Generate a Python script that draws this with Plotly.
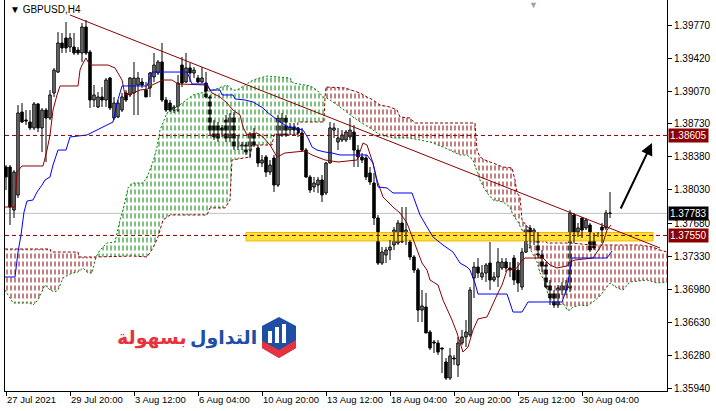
import plotly.graph_objects as go

# ---------------- data ----------------
bar_index = list(range(152))
opens = [1.38272,1.38272,1.37818,1.37977,1.38852,1.38768,1.38747,1.38684,1.38937,1.38684,
1.38873,1.38789,1.39053,1.39274,1.39580,1.39633,1.39538,1.39538,1.39506,1.39475,
1.39749,1.39485,1.38979,1.38905,1.39011,1.38979,1.39211,1.38789,1.38800,1.38873,
1.39053,1.39032,1.39053,1.39137,1.39169,1.39084,1.39106,1.39222,1.39264,1.39380,
1.38979,1.38947,1.38873,1.38873,1.39348,1.39169,1.39317,1.39264,1.39211,1.39169,
1.39158,1.39011,1.38736,1.38715,1.38684,1.38768,1.38578,1.38821,1.38483,1.38473,
1.38504,1.38451,1.38631,1.38473,1.38314,1.38378,1.38219,1.38367,1.38082,1.38610,
1.38789,1.38662,1.38694,1.38684,1.38631,1.38451,1.38167,1.38061,1.38082,1.38135,
1.37998,1.38314,1.38662,1.38536,1.38557,1.38557,1.38589,1.38641,1.38451,1.38378,
1.38367,1.38209,1.38103,1.37734,1.37259,1.37344,1.37396,1.37449,1.37470,1.37681,
1.37502,1.37481,1.37323,1.37185,1.36763,1.36795,1.36531,1.36426,1.36415,1.36363,
1.36215,1.36046,1.36257,1.36183,1.36415,1.36479,1.36500,1.37101,1.37217,1.37112,
1.37154,1.37259,1.37080,1.37112,1.37207,1.37270,1.37207,1.37312,1.37185,1.37006,
1.37375,1.37629,1.37502,1.37555,1.37344,1.37238,1.37048,1.36953,1.36816,1.36953,
1.36974,1.36996,1.37766,1.37586,1.37734,1.37629,1.37660,1.37544,1.37534,1.37639,
1.37629,1.37787]
highs = [1.38293,1.38293,1.38240,1.38926,1.38947,1.38873,1.38873,1.38958,1.38947,1.38895,
1.38895,1.39084,1.39317,1.39696,1.39686,1.39802,1.39686,1.39686,1.39538,1.39791,
1.39823,1.39506,1.39137,1.39063,1.39116,1.39211,1.39222,1.39011,1.38979,1.39053,
1.39084,1.39222,1.39380,1.39274,1.39211,1.39169,1.39274,1.39475,1.39401,1.39580,
1.39011,1.38979,1.38926,1.39243,1.39433,1.39475,1.39369,1.39327,1.39243,1.39327,
1.39274,1.39032,1.38768,1.38747,1.38715,1.38821,1.38842,1.38852,1.38610,1.38536,
1.38536,1.38641,1.38684,1.38504,1.38399,1.38399,1.38346,1.38399,1.38821,1.38842,
1.38821,1.38736,1.38736,1.38694,1.38684,1.38473,1.38188,1.38167,1.38167,1.38188,
1.38325,1.38747,1.38736,1.38684,1.38662,1.38662,1.38789,1.38715,1.38504,1.38420,
1.38399,1.38272,1.38209,1.37766,1.37428,1.37428,1.37502,1.37639,1.37713,1.37850,
1.37850,1.37502,1.37344,1.37207,1.36974,1.36943,1.36552,1.36447,1.36447,1.36363,
1.36257,1.36363,1.36289,1.36479,1.36552,1.36658,1.37006,1.37270,1.37312,1.37238,
1.37259,1.37481,1.37164,1.37418,1.37312,1.37312,1.37270,1.37344,1.37270,1.37418,
1.37660,1.37660,1.37629,1.37586,1.37396,1.37270,1.37080,1.36974,1.37027,1.37059,
1.37080,1.37818,1.37787,1.37681,1.37745,1.37734,1.37681,1.37576,1.37586,1.37681,
1.37818,1.38008]
lows = [1.38029,1.37660,1.37734,1.37945,1.38736,1.38715,1.38662,1.38662,1.38641,1.38430,
1.38325,1.38768,1.39011,1.39264,1.39475,1.39475,1.39485,1.39454,1.39454,1.39380,
1.39454,1.38895,1.38905,1.38895,1.38905,1.38905,1.38873,1.38768,1.38789,1.38852,
1.38958,1.39011,1.38821,1.38821,1.39106,1.39011,1.39011,1.39169,1.39243,1.38958,
1.38852,1.38852,1.38842,1.38852,1.39116,1.39158,1.39169,1.39211,1.39158,1.39158,
1.39000,1.38610,1.38557,1.38536,1.38589,1.38536,1.38536,1.38451,1.38451,1.38451,
1.38399,1.38367,1.38483,1.38272,1.38272,1.38167,1.38188,1.38008,1.38061,1.38589,
1.38589,1.38610,1.38610,1.38589,1.38430,1.38156,1.37998,1.38008,1.37998,1.37903,
1.37977,1.38314,1.38578,1.38451,1.38536,1.38536,1.38557,1.38272,1.38272,1.38314,
1.38135,1.38082,1.37660,1.37238,1.37238,1.37259,1.37291,1.37396,1.37449,1.37470,
1.37449,1.37291,1.37154,1.36637,1.36637,1.36521,1.36341,1.36310,1.36289,1.36099,
1.36025,1.36025,1.36183,1.36057,1.36394,1.36373,1.36479,1.36890,1.37101,1.37080,
1.37059,1.36974,1.37059,1.37006,1.37185,1.37164,1.37112,1.37027,1.36953,1.36974,
1.37365,1.37418,1.37449,1.37312,1.37164,1.36996,1.36816,1.36785,1.36785,1.36922,
1.36922,1.36953,1.37470,1.37534,1.37523,1.37607,1.37375,1.37396,1.37534,1.37470,
1.37607,1.37734]
closes = [1.38167,1.37850,1.38219,1.38842,1.38747,1.38757,1.38684,1.38937,1.38684,1.38873,
1.38789,1.39032,1.39295,1.39580,1.39528,1.39528,1.39633,1.39475,1.39475,1.39749,
1.39475,1.38979,1.39032,1.39011,1.38979,1.39190,1.38895,1.38947,1.38947,1.39011,
1.38979,1.39211,1.39211,1.39211,1.39137,1.39011,1.39264,1.39348,1.39380,1.38979,
1.38873,1.38873,1.38905,1.39158,1.39158,1.39317,1.39264,1.39295,1.39169,1.39211,
1.39011,1.38641,1.38589,1.38557,1.38631,1.38557,1.38821,1.38473,1.38473,1.38504,
1.38430,1.38631,1.38504,1.38314,1.38346,1.38219,1.38293,1.38082,1.38789,1.38789,
1.38610,1.38694,1.38662,1.38631,1.38451,1.38167,1.38029,1.38103,1.38135,1.37977,
1.38314,1.38684,1.38684,1.38578,1.38610,1.38641,1.38662,1.38451,1.38378,1.38346,
1.38167,1.38114,1.37734,1.37259,1.37375,1.37396,1.37428,1.37607,1.37681,1.37481,
1.37607,1.37323,1.37185,1.36763,1.36806,1.36521,1.36363,1.36415,1.36320,1.36352,
1.36046,1.36279,1.36247,1.36415,1.36479,1.36531,1.36974,1.37217,1.37154,1.37154,
1.37238,1.37080,1.37112,1.37270,1.37270,1.37207,1.37185,1.37080,1.37048,1.37375,
1.37629,1.37555,1.37607,1.37344,1.37207,1.37006,1.36890,1.36816,1.36996,1.37027,
1.37048,1.37787,1.37502,1.37629,1.37607,1.37713,1.37396,1.37418,1.37565,1.37607,
1.37787,1.37783]

tenkan_idx = [-0.25,2.25,2.75,4,9.25,10.25,11,11.75,12.75,13.5,18,18.5,19,20,20.5,21.25,25.5,27.25,29,29.75,
31.75,33.5,35.5,36.5,39.25,41.5,43,50.25,51.5,53.5,55.25,56.75,58.5,59.25,60.25,62.75,64.25,66,67.75,69.75,
74.75,76.5,79.75,83,87.75,88.5,89.25,90.25,91.75,92.75,94.25,96.75,98.5,100.25,101.5,102.75,104,105.25,106,108,
109.25,111.5,112.75,114.25,115.5,116.75,118,120.25,121.5,122.75,124,125.25,127.75,129,129.75,134.25,136,137.75,
140.25,141,142.25,146.75,149.25,150.25,151.25]
tenkan_val = [1.37850,1.37850,1.38219,1.38283,1.38283,1.38451,1.38610,1.38873,1.39032,1.39127,1.39127,1.39295,
1.39348,1.39422,1.39380,1.39348,1.39348,1.39317,1.39190,1.39032,1.39053,1.39084,1.39095,1.39137,1.39190,1.39190,
1.39148,1.39137,1.39053,1.39011,1.38947,1.38873,1.38821,1.38694,1.38610,1.38631,1.38589,1.38504,1.38378,1.38420,
1.38441,1.38399,1.38346,1.38325,1.38346,1.38430,1.38525,1.38504,1.38314,1.38135,1.37956,1.37850,1.37787,1.37681,
1.37534,1.37396,1.37259,1.37185,1.37080,1.37027,1.36869,1.36658,1.36521,1.36320,1.36373,1.36552,1.36669,1.36690,
1.36816,1.36922,1.37027,1.37185,1.37207,1.37291,1.37312,1.37312,1.37238,1.37207,1.37228,1.37270,1.37291,1.37312,
1.37470,1.37607,1.37660]

kijun_idx = [-0.25,2.25,3,3.75,4.5,5.25,6.75,7.75,9,9.75,11,11.75,13,15,16,20.25,26.75,27.75,29,35.25,
36.5,45.25,46.5,50.25,51,53.5,54,56.75,57.25,59.75,61.75,63,64.25,65.25,67.25,68.5,70.5,72.25,74.25,75.5,
76.5,77.75,79.75,81.5,83.5,90.25,91.75,93,95.25,96.75,101.5,102.75,103.5,105.25,106.75,109.25,111.75,113.5,
115.25,116,117.25,118,125.25,126.75,129,130.5,139,140.25,141,141.5,150.25,151.5]
kijun_val = [1.37112,1.37112,1.37375,1.37555,1.37797,1.37913,1.37924,1.38008,1.38082,1.38135,1.38167,1.38293,
1.38451,1.38451,1.38589,1.38610,1.38747,1.38947,1.39127,1.39127,1.39274,1.39274,1.39148,1.39148,1.39084,1.39084,
1.39032,1.39032,1.38990,1.38979,1.38958,1.38926,1.38895,1.38852,1.38789,1.38747,1.38694,1.38684,1.38662,1.38578,
1.38483,1.38451,1.38430,1.38420,1.38399,1.38399,1.38314,1.38061,1.38051,1.37998,1.37998,1.37850,1.37766,1.37639,
1.37534,1.37449,1.37375,1.37259,1.37217,1.37185,1.37048,1.36932,1.36932,1.36742,1.36742,1.36848,1.36848,1.36996,
1.37185,1.37312,1.37312,1.37386]

spanA_idx = [-0.25,0.5,1.75,6,6.75,8,9.75,11,12.25,13,14.25,15.5,16.75,18,19.25,20.5,21.5,22.5,23.5,25.25,
27.25,28.5,29.25,30.5,31.5,34.25,35.25,36.75,37.75,38.5,40.25,42.75,45.25,46.75,51.75,55.25,56.75,57.75,61.75,65.25,
71,71.75,76,77.75,79.25,79.75,81,83.5,87.75,91,93.5,96.75,101,106,109.25,113.5,115.25,116.75,118.5,119.75,
121.75,124.25,126,126.75,128,129,130.25,131.5,132.75,133.5,134.75,135.5,136.75,139.75,140.25,141,141.75,143.5,145.25,146.75,
148.5,151,152.75,154.25,156,160.25,162.75,165.25]
spanA_val = [1.36974,1.36922,1.36837,1.36837,1.36816,1.36869,1.37027,1.36974,1.36953,1.36974,1.37101,1.37133,
1.37154,1.37164,1.37207,1.37154,1.37154,1.37323,1.37396,1.37470,1.37481,1.37713,1.37818,1.38051,1.38103,1.38103,
1.38167,1.38325,1.38483,1.38662,1.38842,1.38905,1.38979,1.39032,1.39084,1.39137,1.39084,1.39084,1.39190,1.39232,
1.39211,1.39158,1.39127,1.39084,1.39011,1.39011,1.38979,1.38905,1.38768,1.38684,1.38610,1.38578,1.38578,1.38536,
1.38483,1.38399,1.38399,1.38346,1.38135,1.38029,1.37924,1.37903,1.37850,1.37766,1.37692,1.37607,1.37470,1.37375,
1.37270,1.37154,1.37059,1.36922,1.36837,1.36816,1.36763,1.36763,1.36795,1.36816,1.36806,1.36848,1.36911,1.37048,
1.36996,1.36974,1.37059,1.37080,1.37048,1.37059]

spanB_idx = [-0.25,11,11.25,18,18.25,22.5,31.75,35.25,36.75,38,39.25,41,50.25,51,54.75,56,56.5,61,61.5,66.5,
67,72.75,73,79.5,79.75,80,84.75,86.75,88.5,90.25,91.75,93.5,96,97.75,98.5,101,102.25,117.25,117.75,118.5,
119.75,121.75,124.25,126.5,127.25,127.75,128.5,129,130.25,131,134.25,135.25,141,146.75,158.5,161.75,163.5,165.25]
spanB_val = [1.37407,1.37407,1.37375,1.37375,1.37323,1.37323,1.37333,1.37323,1.37418,1.37534,1.37713,1.37766,
1.37766,1.37840,1.37840,1.37924,1.38346,1.38378,1.38504,1.38504,1.38610,1.38610,1.38747,1.38747,1.39011,1.39116,
1.39106,1.39074,1.39053,1.39011,1.38979,1.38926,1.38905,1.38873,1.38800,1.38789,1.38736,1.38736,1.38451,1.38378,
1.38346,1.38314,1.38272,1.38262,1.38135,1.37998,1.37956,1.37713,1.37639,1.37607,1.37534,1.37470,1.37470,1.37449,
1.37449,1.37428,1.37396,1.37375]

cloud_segments = [(-0.25, 22.5, "bear"), (22.5, 79.75, "bull"), (79.75, 165.25, "bear")]

trend_idx = [16, 163.5]
trend_val = [1.39876, 1.37418]

resistance = 1.38605
support = 1.37550
last_price = 1.37783
zone_idx = [60, 161.75]
zone_val = [1.37492, 1.37581]
arrow_tail = (153.5, 1.37818)
arrow_head = (161.5, 1.38525)

date_tick_idx = [0, 16, 32, 48, 64, 80, 96, 112, 128, 144]
date_tick_text = ["27 Jul 2021", "29 Jul 20:00", "3 Aug 12:00", "6 Aug 04:00", "10 Aug 20:00",
                  "13 Aug 12:00", "18 Aug 04:00", "20 Aug 20:00", "25 Aug 12:00", "30 Aug 04:00"]
price_ticks = [1.39770, 1.39420, 1.39070, 1.38730, 1.38380, 1.38030, 1.37680,
               1.37330, 1.36980, 1.36630, 1.36280, 1.35940]

# ---------------- styles ----------------
DARKRED = "#8B0000"
GREEN = "#008000"
FONT = "Liberation Sans"
W, H = 716, 411
ML, MR, MT, MB = 5, 49, 0, 20

fig = go.Figure()

# cloud fills (vertical hatch broken into dashes by white horizontal gaps)
for start, end, kind in cloud_segments:
    bx = [i for i in spanB_idx if start <= i <= end]
    by = [v for i, v in zip(spanB_idx, spanB_val) if start <= i <= end]
    ax_ = [i for i in spanA_idx if start <= i <= end]
    ay_ = [v for i, v in zip(spanA_idx, spanA_val) if start <= i <= end]
    col = GREEN if kind == "bull" else DARKRED
    for pat in [dict(shape="|", fgcolor=col, size=4, solidity=0.25),
                dict(shape="-", fgcolor="white", size=8, solidity=0.38)]:
        fig.add_trace(go.Scatter(x=bx, y=by, mode="lines", line=dict(width=0), hoverinfo="skip"))
        fig.add_trace(go.Scatter(x=ax_, y=ay_, mode="lines", line=dict(width=0), fill="tonexty",
                                 fillcolor="rgba(0,0,0,0)",
                                 fillpattern=dict(bgcolor="rgba(0,0,0,0)", fgopacity=1, **pat),
                                 hoverinfo="skip"))

# cloud edges
fig.add_trace(go.Scatter(x=spanA_idx, y=spanA_val, mode="lines",
                         line=dict(color=GREEN, width=1, dash="2px,2px"), hoverinfo="skip"))
fig.add_trace(go.Scatter(x=spanB_idx, y=spanB_val, mode="lines",
                         line=dict(color=DARKRED, width=1, dash="3px,2px"), hoverinfo="skip"))

# yellow support zone
fig.add_trace(go.Scatter(x=[zone_idx[0], zone_idx[1], zone_idx[1], zone_idx[0], zone_idx[0]],
                         y=[zone_val[0], zone_val[0], zone_val[1], zone_val[1], zone_val[0]],
                         mode="lines", fill="toself", fillcolor="#FFE23A",
                         line=dict(color="#F0B800", width=1), hoverinfo="skip"))

# candles: wicks then bodies
wick_x, wick_y = [], []
for i, h, l in zip(bar_index, highs, lows):
    wick_x += [i, i, None]
    wick_y += [l, h, None]
fig.add_trace(go.Scatter(x=wick_x, y=wick_y, mode="lines", line=dict(color="black", width=1),
                         hoverinfo="skip"))
body_base = [min(o, c) for o, c in zip(opens, closes)]
body_len = [max(abs(c - o), 0.00002) for o, c in zip(opens, closes)]
body_col = ["white" if c >= o else "black" for o, c in zip(opens, closes)]
fig.add_trace(go.Bar(x=bar_index, y=body_len, base=body_base, width=0.62,
                     marker=dict(color=body_col, line=dict(color="black", width=1)),
                     hoverinfo="skip"))

# tenkan / kijun
fig.add_trace(go.Scatter(x=tenkan_idx, y=tenkan_val, mode="lines",
                         line=dict(color=DARKRED, width=1), hoverinfo="skip"))
fig.add_trace(go.Scatter(x=kijun_idx, y=kijun_val, mode="lines",
                         line=dict(color="#0000FF", width=1), hoverinfo="skip"))
# trendline
fig.add_trace(go.Scatter(x=trend_idx, y=trend_val, mode="lines",
                         line=dict(color=DARKRED, width=1), hoverinfo="skip"))

shapes = [
    dict(type="line", xref="paper", x0=0, x1=1, yref="y", y0=last_price, y1=last_price,
         line=dict(color="#C0C0C0", width=1), layer="below"),
    dict(type="line", xref="paper", x0=0, x1=1, yref="y", y0=resistance, y1=resistance,
         line=dict(color=DARKRED, width=1, dash="4px,3px")),
    dict(type="line", xref="paper", x0=0, x1=1, yref="y", y0=support, y1=support,
         line=dict(color=DARKRED, width=1, dash="4px,3px")),
]

# logo (decoration), pixel coords converted to paper
PW, PH = W - ML - MR, H - MT - MB
def P(px, py):
    return (px - ML) / PW, (H - MB - py) / PH
def path(pts):
    s = ""
    for k, (px, py) in enumerate(pts):
        x, y = P(px, py)
        s += ("M" if k == 0 else "L") + f"{x:.5f},{y:.5f} "
    return s + "Z"
hexagon = [(279, 317), (296, 326), (296, 348), (279, 358), (262, 348), (262, 326)]
red_band = [(262, 341), (279, 350), (296, 340), (296, 348), (279, 358), (262, 348)]
shapes.append(dict(type="path", xref="paper", yref="paper", path=path(hexagon),
                   fillcolor="#1E4FA5", line=dict(width=0)))
shapes.append(dict(type="path", xref="paper", yref="paper", path=path(red_band),
                   fillcolor="#E8333E", line=dict(width=0)))
for bx0, btop in [(268, 331), (275, 327), (282, 324)]:
    shapes.append(dict(type="path", xref="paper", yref="paper",
                       path=path([(bx0, btop), (bx0 + 4, btop), (bx0 + 4, 343), (bx0, 343)]),
                       fillcolor="white", line=dict(width=0)))

annotations = []
for val, bg in [(resistance, DARKRED), (last_price, "black"), (support, DARKRED)]:
    annotations.append(dict(xref="paper", x=1, xanchor="left", xshift=1, yref="y", y=val,
                            text=f"{val:.5f}", showarrow=False, bgcolor=bg, borderpad=1,
                            font=dict(family=FONT, size=10, color="white")))
annotations.append(dict(xref="x", yref="y", x=arrow_head[0], y=arrow_head[1],
                        axref="x", ayref="y", ax=arrow_tail[0], ay=arrow_tail[1],
                        text="", showarrow=True, arrowhead=2, arrowsize=1.2, arrowwidth=2,
                        arrowcolor="black"))
annotations.append(dict(xref="paper", yref="paper", x=P(8, 0)[0], y=1, xanchor="left", yanchor="top",
                        yshift=-2, text="▼ GBPUSD,H4", showarrow=False,
                        font=dict(family=FONT, size=10, color="black")))
annotations.append(dict(xref="paper", yref="paper", x=P(533, 0)[0], y=1, xanchor="center", yanchor="top",
                        yshift=2, text="▼", showarrow=False,
                        font=dict(family=FONT, size=9, color="#A0A0A0")))
annotations.append(dict(xref="paper", yref="paper", x=P(259, 0)[0], y=P(0, 337)[1], xanchor="right",
                        yanchor="middle", text="<b>التداول</b>", showarrow=False,
                        font=dict(family="DejaVu Sans", size=19, color="#1E4FA5")))
annotations.append(dict(xref="paper", yref="paper", x=P(189, 0)[0], y=P(0, 337)[1], xanchor="right",
                        yanchor="middle", text="<b>بسهولة</b>", showarrow=False,
                        font=dict(family="DejaVu Sans", size=19, color="#E8333E")))

fig.update_layout(
    width=W, height=H, margin=dict(l=ML, r=MR, t=MT, b=MB, pad=0),
    paper_bgcolor="white", plot_bgcolor="white", showlegend=False, hovermode=False,
    barmode="overlay", bargap=0,
    shapes=shapes, annotations=annotations,
    xaxis=dict(range=[-0.25, 165.25], tickvals=date_tick_idx, ticktext=date_tick_text,
               ticks="outside", ticklen=4, tickcolor="black", showgrid=False, zeroline=False,
               showline=True, linecolor="black", linewidth=1, mirror=True, tickangle=0,
               ticklabelposition="outside right",
               tickfont=dict(family=FONT, size=9.5, color="black")),
    yaxis=dict(range=[1.35909, 1.40034], side="right", tickvals=price_ticks,
               ticktext=[f"{v:.5f}" for v in price_ticks],
               ticks="outside", ticklen=4, tickcolor="black", showgrid=False, zeroline=False,
               showline=True, linecolor="black", linewidth=1, mirror=True,
               tickfont=dict(family=FONT, size=10, color="black")),
)

fig.write_html("out.html", config={"displayModeBar": False, "staticPlot": True},
               post_script="document.body.style.margin='0';document.body.style.padding='0';")
